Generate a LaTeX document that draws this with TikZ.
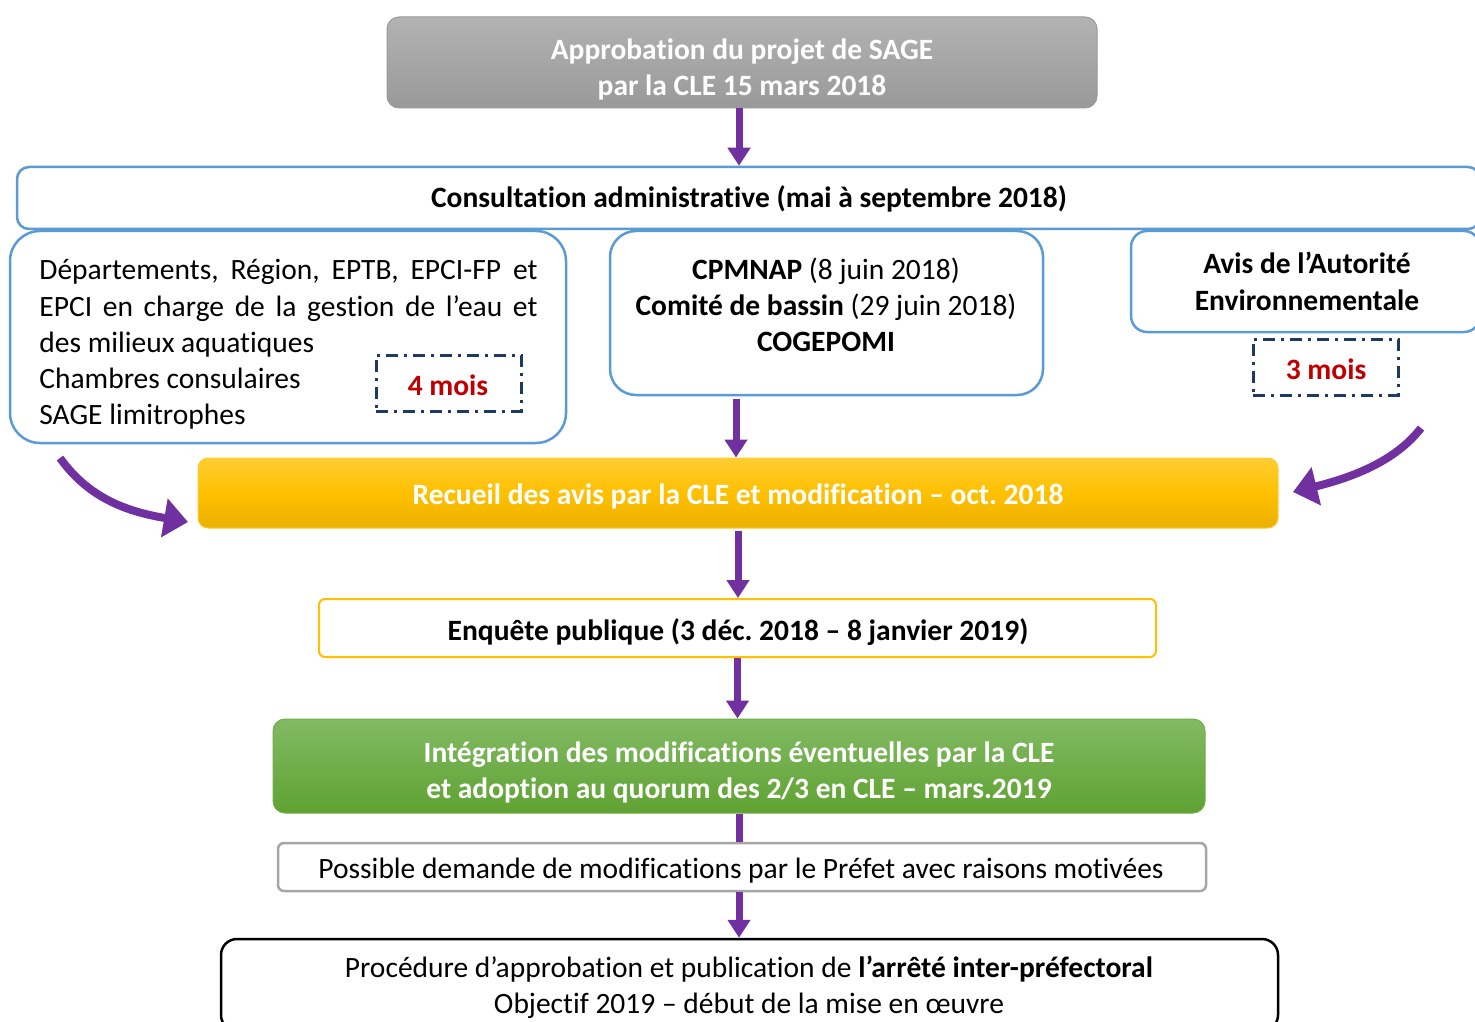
\documentclass[tikz,border=0pt]{standalone}
\usepackage{fontspec}
\setmainfont{Carlito}[Ligatures={NoCommon}]
\usetikzlibrary{arrows.meta,calc}
\definecolor{purp}{HTML}{7030A0}
\definecolor{bblue}{HTML}{5B9BD5}
\definecolor{navy}{HTML}{1F3864}
\definecolor{dred}{HTML}{C00000}
\definecolor{ybord}{HTML}{FFC000}
\definecolor{gbord}{HTML}{A6A6A6}
\definecolor{gtop}{HTML}{82BA63}
\definecolor{gmid}{HTML}{70AD47}
\definecolor{gbot}{HTML}{5FA232}
\frenchspacing
\begin{document}
\begin{tikzpicture}[x=0.5pt,y=-0.5pt,
  txt/.style={inner sep=0pt, anchor=base, font=\fontsize{14.75}{18}\selectfont},
  bluebox/.style={draw=bblue, line width=1.25pt, fill=white},
  durbox/.style={draw=navy, line width=1.5pt, dash pattern=on 6pt off 3pt on 1.5pt off 3pt, minimum width=72.5pt, minimum height=28pt, inner sep=0pt},
  flow/.style={draw=purp, line width=3.5pt, -{Triangle[width=11pt,length=9pt]}},
  flowline/.style={draw=purp, line width=3.5pt},
  curved/.style={draw=purp, line width=4pt, -{Triangle[width=19pt,length=12pt]}}
]
\useasboundingbox (0,0) rectangle (1475,1021);
\clip (0,0) rectangle (1475,1021);

% top gray box
\node[draw=gray!80, line width=0.5pt, rounded corners=6pt, top color=black!30, bottom color=black!40, minimum width=355pt, minimum height=45.5pt] (top) at (742,62.5) {};
\node[txt, text=white] (toptxt) at (742,60) {\bfseries\begin{tabular}[t]{@{}c@{}}Approbation du projet de SAGE\\par la CLE 15 mars 2018\end{tabular}};

% consultation
\node[bluebox, rounded corners=6pt, minimum width=731.5pt, minimum height=31pt] (consult) at (748.5,198) {};
\node[txt] (consulttxt) at (749,208) {\bfseries Consultation administrative (mai à septembre 2018)};

% left box
\node[bluebox, rounded corners=15pt, minimum width=278pt, minimum height=106pt] (left) at (288,337) {};
\node[txt, anchor=base west] (lefttxt) at (39,280) {\parbox[t]{249pt}{\fontsize{14.75}{18}\selectfont
Départements, Région, EPTB, EPCI-FP et\linebreak
EPCI en charge de la gestion de l’eau et\linebreak
des milieux aquatiques\\
Chambres consulaires\\
SAGE limitrophes}};
\node[durbox] (four) at (448.5,383) {};
\node[txt, text=dred] (fourtxt) at (448,395) {\bfseries 4 mois};

% middle box
\node[bluebox, rounded corners=13pt, minimum width=216.5pt, minimum height=82pt] (mid) at (826.5,313) {};
\node[txt] (midtxt) at (826,279) {\begin{tabular}[t]{@{}c@{}}\textbf{CPMNAP} (8 juin 2018)\\\textbf{Comité de bassin} (29 juin 2018)\\\textbf{COGEPOMI}\end{tabular}};

% right box
\node[bluebox, rounded corners=8pt, minimum width=174.5pt, minimum height=50.5pt] (right) at (1305.5,281.5) {};
\node[txt] (righttxt) at (1307,274) {\bfseries\begin{tabular}[t]{@{}c@{}}Avis de l’Autorité\\Environnementale\end{tabular}};
\node[durbox] (three) at (1325.5,367) {};
\node[txt, text=dred] (threetxt) at (1326,379) {\bfseries 3 mois};

% yellow box
\node[draw=ybord!80!white, line width=0.5pt, rounded corners=5pt, top color=ybord!80!white, bottom color=ybord!92!black, middle color=ybord, minimum width=540pt, minimum height=35pt] (yel) at (738,493) {};
\node[txt, text=white] (yeltxt) at (738,504) {\bfseries Recueil des avis par la CLE et modification – oct. 2018};

% enquete
\node[draw=ybord, line width=1pt, fill=white, rounded corners=3pt, minimum width=418.5pt, minimum height=29pt] (enq) at (737.5,628) {};
\node[txt] (enqtxt) at (738,640) {\bfseries Enquête publique (3 déc. 2018 – 8 janvier 2019)};

% green
\node[draw=gmid, line width=0.5pt, rounded corners=6pt, top color=gtop, middle color=gmid, bottom color=gbot, minimum width=466pt, minimum height=47pt] (green) at (739,766) {};
\node[txt, text=white] (greentxt) at (739,762) {\bfseries\begin{tabular}[t]{@{}c@{}}Intégration des modifications éventuelles par la CLE\\et adoption au quorum des 2/3 en CLE – mars.2019\end{tabular}};

% possible
\node[draw=gbord, line width=1.25pt, fill=white, rounded corners=3pt, minimum width=464pt, minimum height=24pt] (poss) at (742,867) {};
\node[txt] (posstxt) at (741,878) {Possible demande de modifications par le Préfet avec raisons motivées};

% final
\node[draw=black, line width=1.25pt, fill=white, rounded corners=8pt, minimum width=528.5pt, minimum height=46pt] (final) at (749.5,985) {};
\node[txt] (finaltxt) at (749,977) {\begin{tabular}[t]{@{}c@{}}Procédure d’approbation et publication de \textbf{l’arrêté inter-préfectoral}\\Objectif 2019 – début de la mise en œuvre\end{tabular}};

% connectors
\draw[flow] ([xshift=-1.5pt]top.south) -- ([xshift=-1.5pt]top.south |- consult.north);
\draw[flow] ([xshift=-1pt,yshift=-1.5pt]yel.north |- mid.south) -- ([xshift=-1pt]yel.north);
\draw[flow] ([yshift=-1pt]yel.south) -- (yel.south |- enq.north);
\draw[flow] (enq.south) -- (enq.south |- green.north);
\draw[flowline] (green.south) -- (green.south |- poss.north);
\draw[flow] (green.south |- poss.south) -- (green.south |- final.north);

\coordinate (lstart) at (60,458);
\coordinate (lend) at (188,522);
\coordinate (rstart) at (1421,428);
\coordinate (rend) at (1293,492);
\draw[curved] (lstart) .. controls (90,500) and (130,512) .. (lend);
\draw[curved] (rstart) .. controls (1395,462) and (1350,478) .. (rend);
\end{tikzpicture}
\end{document}
